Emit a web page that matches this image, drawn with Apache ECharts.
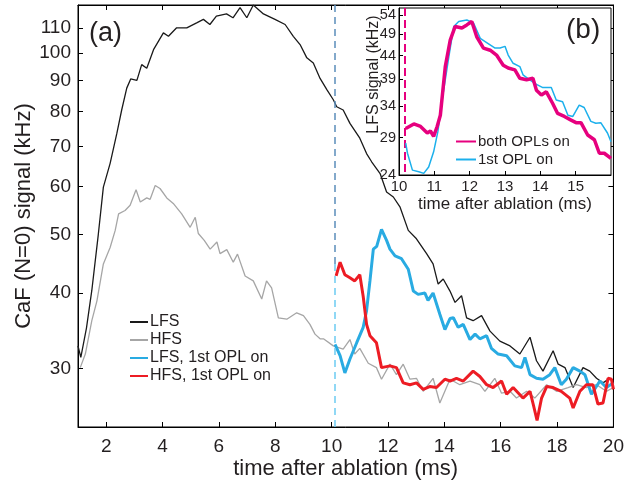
<!DOCTYPE html>
<html>
<head>
<meta charset="utf-8">
<script src="https://cdn.jsdelivr.net/npm/echarts@6/dist/echarts.min.js"></script>
<style>
  html, body { margin: 0; padding: 0; background: #fff; }
  #chart { width: 627px; height: 485px; }
</style>
</head>
<body>
<div id="chart"></div>
<script>
// main panel (a): time after ablation (ms) vs signal (kHz), log y
const lfsT = [1.0, 1.1, 1.3, 1.49, 1.72, 1.90, 2.14, 2.38, 2.55, 2.73, 2.87, 3.09, 3.26, 3.44, 3.68, 4.03, 4.21, 4.50, 4.86, 5.21, 5.45, 5.68, 5.91, 6.27, 6.50, 6.75, 6.99, 7.22, 7.58, 7.99, 8.35, 8.64, 8.88, 9.12, 9.35, 9.59, 9.83, 10.06, 10.18, 10.41, 10.65, 11.0, 11.24, 11.42, 11.72, 11.95, 12.19, 12.43, 12.72, 13.01, 13.37, 13.6, 13.78, 13.96, 14.2, 14.38, 14.61, 14.79, 15.02, 15.32, 15.62, 15.97, 16.33, 16.68, 17.04, 17.27, 17.5, 17.86, 18.04, 18.28, 18.57, 18.92, 19.16, 19.40, 19.63, 19.87, 20.0]
const lfsV = [32.7, 31.3, 35.0, 40.4, 50.0, 59.9, 65.6, 73.6, 80.4, 87.4, 90.5, 90.0, 95.6, 94.3, 101.2, 107.9, 106.5, 110, 110, 112.1, 113.6, 111.4, 115, 116, 114.3, 118.8, 114.3, 120, 116, 113.6, 111.4, 106.5, 103.2, 98.1, 96.2, 90.7, 86.9, 83.6, 81.4, 80.4, 76.4, 72.2, 68.1, 66.0, 63.1, 58.8, 57.7, 55.5, 50.8, 49.2, 46.5, 44.7, 41.4, 42.2, 40.3, 38.6, 39.6, 36.4, 36.0, 36.7, 34.6, 33.3, 32.7, 31.7, 33.8, 30.9, 29.7, 32.1, 30.5, 30.1, 27.9, 30.1, 29.7, 28.9, 28.4, 28.9, 28.6]

const hfsT = [1.08, 1.26, 1.49, 1.67, 1.90, 2.14, 2.32, 2.44, 2.67, 2.85, 3.06, 3.21, 3.44, 3.56, 3.74, 3.91, 4.15, 4.38, 4.68, 4.98, 5.16, 5.27, 5.48, 5.69, 5.93, 6.04, 6.28, 6.51, 6.66, 6.93, 7.22, 7.52, 7.69, 7.87, 8.11, 8.41, 8.76, 9.0, 9.23, 9.41, 9.59, 9.71, 10.06, 10.41, 10.65, 10.82, 11.0, 11.30, 11.59, 11.77, 12.07, 12.3, 12.54, 12.78, 13.01, 13.25, 13.6, 13.84, 14.2, 14.55, 14.91, 15.26, 15.44, 15.79, 16.03, 16.33, 16.56, 16.92, 17.21, 17.63, 17.98, 18.39, 18.69, 19.04, 19.40, 19.75, 20.0]
const hfsV = [30.1, 31.7, 36.0, 38.8, 44.7, 47.6, 50.8, 54.1, 54.8, 55.9, 59.3, 56.6, 57.5, 57.2, 60.3, 59.6, 57.5, 56.3, 54.1, 51.4, 53.4, 50.2, 48.9, 47.3, 48.6, 46.5, 47.2, 45.0, 46.4, 42.7, 41.9, 39.1, 41.9, 40.8, 36.4, 36.2, 37.1, 36.7, 35.5, 34.2, 33.6, 33.6, 32.7, 32.3, 33.5, 31.7, 32.4, 30.6, 30.1, 28.8, 30.5, 29.3, 30.5, 28.8, 28.9, 27.5, 28.9, 26.3, 28.8, 28.2, 28.6, 28.2, 27.5, 28.9, 27.3, 27.5, 26.8, 27.5, 26.8, 28.2, 27.5, 27.9, 28.2, 27.9, 28.2, 27.5, 27.9]

const lfsOplT = [10.12, 10.30, 10.47, 10.65, 10.89, 11.12, 11.24, 11.36, 11.48, 11.6, 11.77, 11.95, 12.07, 12.25, 12.48, 12.72, 12.9, 13.07, 13.31, 13.42, 13.6, 13.84, 14.02, 14.2, 14.32, 14.49, 14.67, 14.91, 15.09, 15.26, 15.5, 15.67, 15.91, 16.21, 16.5, 16.74, 16.86, 17.04, 17.27, 17.5, 17.74, 17.92, 18.15, 18.33, 18.57, 18.81, 18.99, 19.22, 19.52, 19.75, 20.0]
const lfsOplV = [32.9, 31.5, 29.5, 31.1, 33.1, 35.1, 37.4, 41.9, 47.3, 47.8, 51.0, 48.9, 47.3, 46.1, 45.6, 43.8, 40.3, 39.8, 40.0, 38.9, 40.0, 36.9, 34.8, 36.3, 36.4, 35.1, 35.5, 33.5, 34.2, 33.6, 34.0, 32.4, 31.7, 31.5, 30.3, 30.1, 31.3, 29.3, 28.9, 28.8, 29.3, 30.1, 28.2, 28.8, 30.1, 29.7, 29.3, 27.2, 28.6, 27.9, 28.4]

const hfsOplT = [10.16, 10.3, 10.47, 10.65, 10.82, 11.0, 11.12, 11.24, 11.36, 11.59, 11.77, 12.07, 12.3, 12.54, 12.78, 13.01, 13.25, 13.48, 13.72, 14.02, 14.2, 14.43, 14.67, 15.02, 15.26, 15.5, 15.73, 16.03, 16.21, 16.44, 16.79, 17.04, 17.16, 17.29, 17.45, 17.63, 17.86, 18.15, 18.45, 18.57, 18.81, 19.04, 19.27, 19.45, 19.63, 19.81, 19.93, 20.0]
const hfsOplV = [42.7, 45.0, 42.9, 42.4, 41.9, 42.9, 39.5, 35.5, 34.0, 33.1, 30.1, 30.3, 30.1, 28.4, 28.2, 28.4, 27.7, 28.0, 27.9, 28.8, 28.6, 28.9, 28.6, 29.7, 29.1, 28.2, 27.9, 28.6, 27.2, 27.9, 26.8, 27.5, 26.1, 24.6, 26.8, 28.0, 27.9, 27.5, 26.8, 25.8, 27.5, 28.2, 28.2, 26.2, 26.3, 28.9, 28.8, 27.7]

// inset (b)
const bothT = [10.19, 10.42, 10.61, 10.8, 10.89, 10.98, 11.08, 11.17, 11.31, 11.45, 11.59, 11.78, 11.92, 12.06, 12.2, 12.39, 12.58, 12.76, 12.95, 13.09, 13.28, 13.42, 13.61, 13.79, 13.89, 14.03, 14.17, 14.35, 14.49, 14.68, 14.87, 15.01, 15.15, 15.34, 15.53, 15.67, 15.81, 16.0]
const bothV = [30.4, 31.1, 30.7, 29.7, 30.0, 29.2, 30.7, 32.5, 41.6, 47.6, 51.0, 50.6, 51.4, 52.3, 48.4, 45.7, 45.2, 44.1, 41.9, 41.3, 40.9, 39.2, 38.9, 39.2, 36.9, 36.0, 36.6, 34.5, 32.8, 32.3, 31.7, 31.3, 31.3, 29.4, 28.7, 26.8, 26.8, 26.1]

const firstT = [10.19, 10.24, 10.38, 10.56, 10.70, 10.84, 10.98, 11.1, 11.22, 11.41, 11.55, 11.69, 11.92, 12.11, 12.3, 12.48, 12.72, 12.86, 13.0, 13.09, 13.23, 13.42, 13.51, 13.70, 13.89, 14.07, 14.31, 14.45, 14.63, 14.78, 14.92, 15.1, 15.24, 15.43, 15.57, 15.71, 15.9, 16.0]
const firstV = [28.2, 26.8, 24.6, 24.4, 24.2, 25.0, 27.0, 29.9, 35.1, 43.7, 51.0, 52.3, 52.7, 51.9, 48.0, 47.0, 45.7, 45.7, 46.1, 44.1, 42.3, 41.6, 39.9, 38.9, 38.0, 37.4, 37.4, 35.1, 34.8, 32.5, 32.3, 34.2, 33.8, 31.5, 31.2, 31.3, 29.7, 28.4]

// tick labels
const mainXTicks = [2, 4, 6, 8, 10, 12, 14, 16, 18, 20]
const mainYTicks = [30, 40, 50, 60, 70, 80, 90, 100, 110]
const insetXTicks = [10, 11, 12, 13, 14, 15]
const insetYTicks = [24, 29, 34, 39, 44, 49, 54]

const oplTime = 10.12      // dashed line in (a)
const oplSplit = 44.7      // colour change of that dashed line
const insetOplTime = 10.15 // dashed line in (b)

const font = "'Liberation Sans', Arial, sans-serif"
const ink = '#231f20'
const ln = v => Math.log(v)
const pairs = (ts, vs) => ts.map((t, i) => [t, ln(vs[i])])

const chart = echarts.init(document.getElementById('chart'))

function axis(grid, min, max, ticks, opts) {
  return Object.assign({
    type: 'value', gridIndex: grid, min: min, max: max,
    nameMoveOverlap: false,
    axisLine: { show: true, lineStyle: { color: '#000', width: 1 } },
    axisTick: { show: true, inside: true, length: 5, customValues: ticks, lineStyle: { color: '#000' } },
    axisLabel: { show: true, customValues: ticks, color: ink, fontFamily: font },
    splitLine: { show: false }
  }, opts)
}

const lnTicks = arr => arr.map(ln)
const fmt = v => String(Math.round(Math.exp(v)))

chart.setOption({
  animation: false,
  backgroundColor: '#fff',
  textStyle: { fontFamily: font },
  title: [
    { text: '(a)', left: 84, top: 15, textStyle: { fontSize: 27, fontWeight: 'normal', color: ink, fontFamily: font } },
    { text: '(b)', left: 561, top: 11, textStyle: { fontSize: 28, fontWeight: 'normal', color: ink, fontFamily: font } }
  ],
  grid: [
    { left: 78, top: 5, width: 536, height: 422, show: true, borderColor: '#000', borderWidth: 1, backgroundColor: 'transparent' },
    { left: 399, top: 8, width: 212, height: 167, show: true, borderColor: '#000', borderWidth: 1, backgroundColor: '#fff', z: 5 }
  ],
  legend: [
    {
      orient: 'vertical', left: 124, top: 309, itemGap: 2, itemWidth: 18, itemHeight: 14,
      itemStyle: { opacity: 0 },
      textStyle: { fontSize: 16, color: ink, fontFamily: font, padding: [0, 0, 0, -3] },
      data: ['LFS', 'HFS', 'LFS, 1st OPL on', 'HFS, 1st OPL on']
    },
    {
      orient: 'vertical', left: 450, top: 129, itemGap: 3, itemWidth: 20, itemHeight: 15, z: 10,
      itemStyle: { opacity: 0 },
      textStyle: { fontSize: 15, color: ink, fontFamily: font, padding: [0, 0, 0, -3] },
      data: ['both OPLs on', '1st OPL on']
    }
  ],
  xAxis: [
    axis(0, 1, 20, mainXTicks, {
      name: 'time after ablation (ms)', nameLocation: 'middle', nameGap: 31,
      nameTextStyle: { fontSize: 22, color: ink, fontFamily: font },
      axisLabel: { customValues: mainXTicks, fontSize: 19, margin: 10, color: ink, fontFamily: font }
    }),
    axis(0, 1, 20, mainXTicks, { position: 'top', axisLabel: { show: false } }),
    axis(1, 10, 16, insetXTicks, {
      z: 6,
      name: 'time after ablation (ms)', nameLocation: 'middle', nameGap: 21,
      nameTextStyle: { fontSize: 17, color: ink, fontFamily: font },
      axisTick: { show: true, inside: true, length: 4, customValues: insetXTicks, lineStyle: { color: '#000' } },
      axisLabel: { customValues: insetXTicks, fontSize: 15, margin: 4, color: ink, fontFamily: font }
    })
  ],
  yAxis: [
    axis(0, ln(24), ln(120), lnTicks(mainYTicks), {
      name: 'CaF (N=0) signal (kHz)', nameLocation: 'middle', nameGap: 43,
      nameTextStyle: { fontSize: 22, color: ink, fontFamily: font },
      axisLabel: { customValues: lnTicks(mainYTicks), formatter: fmt, fontSize: 19, margin: 7, color: ink, fontFamily: font }
    }),
    axis(0, ln(24), ln(120), lnTicks(mainYTicks), { position: 'right', axisLabel: { show: false } }),
    axis(1, ln(24), ln(56), lnTicks(insetYTicks), {
      z: 6,
      name: 'LFS signal (kHz)', nameLocation: 'middle', nameGap: 17,
      nameTextStyle: { fontSize: 16, color: ink, fontFamily: font, padding: [0, 0, 0, 34] },
      axisTick: { show: true, inside: true, length: 4, customValues: lnTicks(insetYTicks), lineStyle: { color: '#000' } },
      axisLabel: { customValues: lnTicks(insetYTicks), formatter: fmt, fontSize: 14.5, margin: 3, color: ink, fontFamily: font }
    })
  ],
  series: [
    {
      name: 'LFS', type: 'line', xAxisIndex: 0, yAxisIndex: 0, symbol: 'none',
      color: '#1a1a1a', lineStyle: { width: 1.3, color: '#1a1a1a' }, data: pairs(lfsT, lfsV)
    },
    {
      name: 'HFS', type: 'line', xAxisIndex: 0, yAxisIndex: 0, symbol: 'none',
      color: '#a6a6a6', lineStyle: { width: 1.3, color: '#a6a6a6' }, data: pairs(hfsT, hfsV)
    },
    {
      name: 'LFS, 1st OPL on', type: 'line', xAxisIndex: 0, yAxisIndex: 0, symbol: 'none', z: 3,
      color: '#29abe2', lineStyle: { width: 3, color: '#29abe2' }, data: pairs(lfsOplT, lfsOplV),
      markLine: {
        silent: true, symbol: 'none', label: { show: false },
        data: [
          [{ coord: [oplTime, ln(120)], lineStyle: { color: '#5b8dbb', width: 1.5, type: [7, 5] } }, { coord: [oplTime, ln(oplSplit)] }],
          [{ coord: [oplTime, ln(oplSplit)], lineStyle: { color: '#6ccbf2', width: 1.5, type: [7, 5] } }, { coord: [oplTime, ln(24)] }]
        ]
      }
    },
    {
      name: 'HFS, 1st OPL on', type: 'line', xAxisIndex: 0, yAxisIndex: 0, symbol: 'none', z: 4,
      color: '#ed1c24', lineStyle: { width: 3, color: '#ed1c24' }, data: pairs(hfsOplT, hfsOplV)
    },
    {
      name: '1st OPL on', type: 'line', xAxisIndex: 2, yAxisIndex: 2, symbol: 'none', z: 7,
      color: '#1cb0ec', lineStyle: { width: 1.5, color: '#1cb0ec' }, data: pairs(firstT, firstV)
    },
    {
      name: 'both OPLs on', type: 'line', xAxisIndex: 2, yAxisIndex: 2, symbol: 'none', z: 8,
      color: '#e6007e', lineStyle: { width: 3.5, color: '#e6007e' }, data: pairs(bothT, bothV),
      markLine: {
        silent: true, symbol: 'none', label: { show: false },
        lineStyle: { color: '#e6007e', width: 2, type: [8, 4] },
        data: [[{ coord: [insetOplTime, ln(56)] }, { coord: [insetOplTime, ln(24)] }]]
      }
    }
  ]
})
</script>
</body>
</html>
